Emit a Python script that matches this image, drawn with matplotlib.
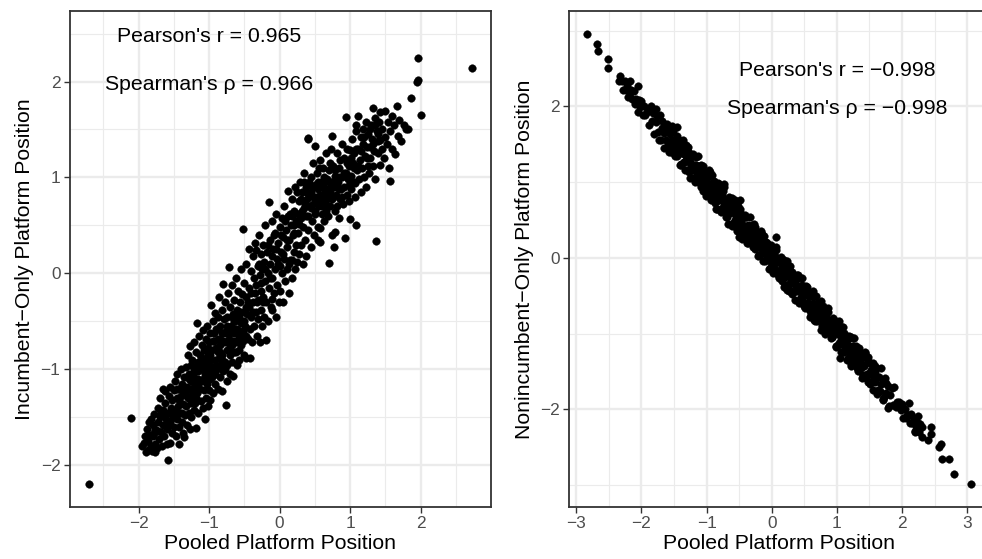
import numpy as np
import matplotlib
matplotlib.use("Agg")
import matplotlib.pyplot as plt

plt.rcParams['font.family'] = ['Liberation Sans', 'DejaVu Sans']

# left panel: pooled position vs incumbent-only position
incumbent_pts = [
    (-2.71, -2.20), (-2.11, -1.51),
    (-1.95, -1.80), (-1.93, -1.77), (-1.91, -1.70), (-1.90, -1.86), (-1.88, -1.62), (-1.87, -1.84),
    (-1.86, -1.75), (-1.85, -1.55), (-1.84, -1.68), (-1.83, -1.80), (-1.82, -1.52), (-1.81, -1.85),
    (-1.80, -1.58), (-1.80, -1.84), (-1.79, -1.70), (-1.78, -1.47), (-1.77, -1.63), (-1.76, -1.78),
    (-1.76, -1.86),
    (-1.75, -1.63), (-1.74, -1.82), (-1.73, -1.40), (-1.72, -1.55), (-1.71, -1.73), (-1.70, -1.30),
    (-1.69, -1.50), (-1.68, -1.65), (-1.67, -1.80), (-1.66, -1.20), (-1.66, -1.42), (-1.65, -1.58),
    (-1.64, -1.70), (-1.63, -1.23), (-1.62, -1.35), (-1.61, -1.52), (-1.60, -1.62), (-1.59, -1.78),
    (-1.58, -1.94), (-1.58, -1.45), (-1.57, -1.28), (-1.56, -1.18), (-1.56, -1.77), (-1.55, -1.55),
    (-1.54, -1.40), (-1.53, -1.66), (-1.52, -1.32), (-1.51, -1.50), (-1.50, -1.22), (-1.50, -1.60),
    (-1.49, -1.42), (-1.48, -1.12), (-1.47, -1.70), (-1.46, -1.30), (-1.45, -1.52), (-1.45, -1.05),
    (-1.44, -1.38), (-1.43, -1.78), (-1.43, -1.20), (-1.42, -1.60), (-1.41, -1.45), (-1.40, -1.00),
    (-1.40, -1.28), (-1.39, -1.55), (-1.38, -1.15), (-1.37, -1.36), (-1.37, -1.66), (-1.36, -1.08),
    (-1.35, -1.71), (-1.35, -1.25), (-1.34, -1.48), (-1.33, -0.98), (-1.33, -1.38), (-1.32, -1.18),
    (-1.31, -1.58), (-1.30, -0.85), (-1.30, -1.30), (-1.29, -1.05), (-1.29, -1.45), (-1.28, -1.20),
    (-1.27, -0.76), (-1.27, -1.62), (-1.26, -1.35), (-1.26, -0.95), (-1.25, -1.12), (-1.25, -1.50),
    (-1.24, -1.28), (-1.24, -0.90), (-1.23, -1.05), (-1.22, -1.42), (-1.22, -0.72), (-1.21, -1.18),
    (-1.20, -0.98), (-1.20, -1.35), (-1.19, -1.61), (-1.19, -0.82), (-1.18, -1.10), (-1.17, -0.52),
    (-1.17, -1.25), (-1.16, -0.92), (-1.15, -1.45), (-1.15, -1.02), (-1.14, -0.65), (-1.13, -1.20),
    (-1.13, -0.85), (-1.12, -1.33), (-1.11, -1.00), (-1.10, -0.75), (-1.10, -1.12), (-1.09, -0.59),
    (-1.09, -1.40), (-1.08, -0.92), (-1.07, -1.22), (-1.07, -0.80), (-1.06, -1.05), (-1.06, -1.52),
    (-1.05, -0.68), (-1.05, -1.30), (-1.04, -0.95), (-1.03, -1.15), (-1.03, -0.55), (-1.02, -0.85),
    (-1.02, -1.38), (-1.01, -1.05), (-1.00, -0.72), (-1.00, -1.22), (-0.99, -1.32), (-0.99, -0.90),
    (-0.98, -1.10), (-0.98, -0.62), (-0.97, -0.33), (-0.97, -0.98), (-0.96, -0.80), (-0.95, -1.25),
    (-0.95, -0.50), (-0.94, -1.02), (-0.93, -0.70), (-0.92, -0.41), (-0.92, -0.90), (-0.91, -1.15),
    (-0.90, -0.58), (-0.90, -0.78), (-0.89, -1.00), (-0.88, -0.45), (-0.88, -1.20), (-0.87, -0.68),
    (-0.86, -0.88), (-0.86, -0.25), (-0.85, -1.08), (-0.85, -0.55), (-0.84, -0.75), (-0.83, -0.95),
    (-0.82, -1.23), (-0.82, -0.38), (-0.81, -0.62), (-0.81, -0.85), (-0.80, -0.11), (-0.80, -1.02),
    (-0.79, -0.48), (-0.78, -0.72), (-0.78, -0.92), (-0.77, -0.30), (-0.76, -1.37), (-0.76, -0.60),
    (-0.75, -0.80), (-0.75, -1.12),
    (-0.74, -0.45), (-0.74, -0.95), (-0.73, -0.20), (-0.72, 0.07), (-0.72, -0.68), (-0.71, -0.85),
    (-0.70, -0.35), (-0.70, -1.05), (-0.69, -0.55), (-0.68, -0.75), (-0.68, -0.12), (-0.67, -0.92),
    (-0.66, -1.07), (-0.66, -0.42), (-0.65, -0.62), (-0.64, -0.28), (-0.64, -0.82), (-0.63, -0.50),
    (-0.62, -0.05), (-0.62, -0.70), (-0.61, -0.95), (-0.60, -0.38), (-0.60, -0.58), (-0.59, -0.18),
    (-0.58, -0.80), (-0.58, -0.45), (-0.57, -0.90), (-0.57, -0.65), (-0.56, -0.30), (-0.55, 0.05),
    (-0.55, -0.52), (-0.54, -0.75), (-0.53, -0.22), (-0.52, 0.46), (-0.52, -0.60), (-0.51, -0.40),
    (-0.50, -0.85), (-0.50, -0.10),
    (-0.49, -0.55), (-0.48, -0.25), (-0.47, -0.88), (-0.47, 0.10), (-0.46, -0.42), (-0.45, -0.68),
    (-0.44, -0.15), (-0.44, 0.25), (-0.43, -0.35), (-0.42, -0.88), (-0.42, -0.58), (-0.41, 0.02),
    (-0.40, -0.20), (-0.40, -0.45), (-0.39, -0.72), (-0.38, 0.18), (-0.37, -0.30), (-0.36, -0.05),
    (-0.36, -0.55), (-0.35, 0.32), (-0.34, 0.24), (-0.34, -0.40), (-0.33, -0.12), (-0.32, -0.65),
    (-0.31, 0.08), (-0.30, -0.28), (-0.30, -0.48), (-0.29, 0.40), (-0.28, -0.02), (-0.28, -0.72),
    (-0.27, -0.18), (-0.26, 0.20), (-0.26, -0.38), (-0.25, -0.55), (-0.25, 0.05),
    (-0.24, -0.25), (-0.23, 0.30), (-0.22, -0.45), (-0.22, 0.12), (-0.21, -0.08), (-0.20, 0.50),
    (-0.19, -0.69), (-0.19, -0.30), (-0.18, 0.22), (-0.17, 0.00), (-0.16, -0.50), (-0.15, 0.74),
    (-0.15, -0.15), (-0.14, 0.35), (-0.13, 0.10), (-0.12, -0.35), (-0.11, -0.27), (-0.11, 0.55),
    (-0.10, -0.38), (-0.10, -0.05), (-0.09, 0.25), (-0.08, -0.20), (-0.07, 0.42), (-0.06, 0.05),
    (-0.05, -0.45), (-0.05, 0.62), (-0.04, 0.15), (-0.03, -0.12), (-0.02, 0.32), (-0.01, -0.30),
    (0.00, 0.08), (0.00, 0.48),
    (0.01, -0.18), (0.02, 0.22), (0.03, 0.58), (0.04, 0.00), (0.05, 0.38), (0.05, -0.30),
    (0.06, 0.15), (0.07, 0.70), (0.08, -0.08), (0.09, 0.45), (0.10, 0.28), (0.11, 0.05),
    (0.12, 0.86), (0.12, 0.60), (0.13, -0.20), (0.14, 0.35), (0.15, 0.14), (0.16, 0.50),
    (0.17, 0.14), (0.17, 0.78), (0.18, -0.05), (0.19, 0.40), (0.20, 0.22), (0.21, 0.65),
    (0.22, 0.05), (0.22, 0.90), (0.23, 0.30), (0.24, 0.55), (0.25, 0.12),
    (0.26, 0.42), (0.27, 0.75), (0.28, 0.20), (0.29, 0.95), (0.30, 0.58), (0.31, 0.30),
    (0.32, 0.85), (0.33, 0.10), (0.33, 0.48), (0.34, 1.05), (0.35, 0.68), (0.36, 0.35),
    (0.37, 0.90), (0.38, 0.18), (0.38, 0.60), (0.39, 0.78), (0.40, 1.41), (0.40, 0.45),
    (0.41, 1.40), (0.42, 0.95), (0.43, 0.70), (0.44, 0.28), (0.45, 0.85), (0.46, 0.55),
    (0.47, 1.15), (0.48, 0.72), (0.49, 0.40), (0.50, 1.33), (0.50, 0.92),
    (0.51, 0.62), (0.52, 0.80), (0.53, 1.05), (0.54, 0.48), (0.55, 0.35), (0.55, 0.88),
    (0.56, 0.70), (0.57, 0.47), (0.57, 0.33), (0.58, 1.18), (0.59, 0.95), (0.60, 0.62),
    (0.61, 0.78), (0.62, 1.10), (0.63, 0.55), (0.64, 0.88), (0.65, 0.72), (0.66, 1.25),
    (0.67, 0.80), (0.68, 0.98), (0.69, 0.60), (0.70, 0.11), (0.70, 1.08), (0.71, 0.85),
    (0.72, 0.70), (0.73, 1.30), (0.74, 0.40), (0.74, 0.95), (0.75, 1.43), (0.75, 0.78),
    (0.76, 1.12), (0.77, 0.27), (0.77, 0.90), (0.78, 0.65), (0.79, 0.43), (0.79, 1.02),
    (0.80, 0.82), (0.81, 0.70), (0.82, 1.25), (0.83, 0.95), (0.84, 0.58), (0.85, 1.10),
    (0.86, 1.18), (0.86, 0.78), (0.87, 0.88), (0.88, 1.35), (0.89, 1.00), (0.90, 0.72),
    (0.91, 1.20), (0.92, 0.90), (0.93, 0.37), (0.94, 1.63), (0.94, 1.05), (0.95, 0.82),
    (0.96, 1.30), (0.97, 0.98), (0.98, 1.12), (0.99, 0.75), (1.00, 0.57), (1.00, 1.29),
    (1.01, 1.02), (1.02, 0.88), (1.03, 1.40), (1.04, 1.15), (1.05, 0.95), (1.06, 1.25),
    (1.07, 0.80), (1.07, 0.94), (1.08, 1.48), (1.09, 1.55), (1.09, 0.50), (1.10, 1.08),
    (1.11, 1.64), (1.12, 1.30), (1.13, 0.98), (1.14, 1.18), (1.15, 1.42), (1.16, 0.85),
    (1.17, 1.10), (1.18, 1.35), (1.19, 1.50), (1.20, 1.00), (1.21, 1.22), (1.22, 1.58),
    (1.23, 0.90), (1.24, 1.32), (1.25, 1.12),
    (1.26, 1.45), (1.27, 1.05), (1.28, 1.32), (1.29, 1.20), (1.30, 1.55), (1.31, 1.40),
    (1.32, 1.72), (1.33, 1.12), (1.34, 1.28), (1.35, 1.62), (1.36, 0.98), (1.37, 0.34),
    (1.38, 1.48), (1.39, 1.25), (1.40, 1.38), (1.41, 1.58), (1.42, 1.13), (1.42, 1.39),
    (1.43, 1.68), (1.45, 1.30), (1.46, 1.50), (1.48, 1.20), (1.50, 1.69), (1.50, 1.42),
    (1.52, 1.35), (1.54, 1.58), (1.55, 1.10), (1.56, 0.96), (1.57, 1.48), (1.59, 1.64),
    (1.60, 1.30), (1.62, 1.55), (1.64, 1.24), (1.66, 1.74), (1.68, 1.43), (1.70, 1.60),
    (1.73, 1.38), (1.76, 1.55), (1.80, 1.51), (1.82, 1.51), (1.86, 1.83), (1.95, 1.99),
    (1.96, 2.25), (1.97, 2.02), (2.00, 1.65), (2.73, 2.14),
    # denser core
    (0.42, 0.82), (0.45, 0.68), (0.48, 0.90), (0.52, 0.75), (0.55, 0.95), (0.58, 0.82),
    (0.60, 0.70), (0.62, 0.92), (0.65, 0.85), (0.68, 0.78), (0.70, 0.95), (0.72, 0.88),
    (0.76, 0.80), (0.80, 0.95), (0.84, 0.88), (0.36, 0.72), (0.30, 0.78), (0.26, 0.62),
    (0.20, 0.50), (0.15, 0.62),
    (-1.10, -0.95), (-1.05, -0.88), (-1.00, -0.95), (-0.95, -0.70), (-0.92, -1.05),
    (-0.88, -0.82), (-0.85, -0.68), (-0.82, -0.90), (-0.78, -0.62), (-0.75, -0.55),
    (-0.72, -0.80), (-0.70, -0.62), (-0.65, -0.50), (-0.62, -0.82), (-0.58, -0.60),
    (-0.55, -0.40), (-0.52, -0.70), (-0.48, -0.35), (-1.15, -1.10), (-1.20, -1.15),
    (-1.78, -1.66), (-1.72, -1.64), (-1.68, -1.45), (-1.62, -1.48), (-1.58, -1.58), (-1.52, -1.42),
    (-1.48, -1.50), (-1.46, -1.20), (-1.42, -1.32), (-1.38, -1.45), (-1.36, -1.22), (-1.32, -1.28),
    (-1.28, -1.10), (-1.25, -1.22), (-1.22, -1.00), (-1.18, -1.30), (-1.16, -1.15), (-1.12, -0.90),
    (-1.08, -1.10), (-1.05, -1.00), (-1.02, -0.78), (-0.98, -0.85), (-0.96, -1.08), (-0.93, -0.62),
    (-0.90, -0.95), (-0.87, -0.58), (-0.84, -0.82), (-0.80, -0.70), (-0.77, -1.00), (-0.74, -0.62),
    (-0.71, -0.75), (-0.68, -0.45), (-0.66, -0.70), (-0.63, -0.58), (-0.60, -0.72), (-0.57, -0.40),
    (-0.54, -0.62), (-0.51, -0.50), (-0.48, -0.65), (-0.45, -0.30),
    (-0.38, -0.40), (-0.35, -0.20), (-0.32, -0.30), (-0.29, 0.10), (-0.26, -0.10), (-0.23, -0.30),
    (-0.20, 0.05), (-0.17, 0.30), (-0.14, -0.05), (-0.11, 0.18), (-0.08, 0.40), (-0.05, 0.25),
    (-0.02, 0.10), (0.02, 0.40), (0.05, 0.20), (0.08, 0.55), (0.11, 0.35), (0.14, 0.10),
    (0.18, 0.60), (0.21, 0.42), (0.25, 0.85), (0.28, 0.52), (0.32, 0.65), (0.35, 0.95),
    (0.38, 0.85), (0.41, 0.60), (0.44, 1.00), (0.47, 0.80), (0.50, 0.65), (0.53, 0.92),
    (0.56, 1.10), (0.59, 0.75), (0.63, 1.00), (0.66, 0.65), (0.69, 0.88), (0.72, 1.15),
    (0.75, 0.95), (0.78, 1.08), (0.81, 0.90), (0.85, 1.00), (0.88, 0.80), (0.91, 1.05),
    (0.95, 1.15), (0.98, 0.92), (1.02, 1.20), (1.05, 1.10), (1.08, 1.30), (1.12, 1.12),
    (1.16, 1.28), (1.20, 1.42), (1.24, 1.20), (1.28, 1.50), (1.32, 1.35), (1.36, 1.55),
    (1.40, 1.45),
]

# right panel: pooled position vs nonincumbent-only position
nonincumbent_pts = [
    (-2.83, 2.96), (-2.69, 2.82), (-2.66, 2.73), (-2.51, 2.63), (-2.51, 2.51), (-2.33, 2.40),
    (-2.35, 2.33), (-2.18, 2.34), (-2.05, 2.27), (-1.45, 1.73), (-2.05, 1.92),
    (-0.50, 0.27), (-0.67, 0.45), (-0.84, 0.64), (-0.49, 0.76), (-0.74, 0.97), (0.07, 0.27),
    (0.23, -0.42), (1.04, -1.32), (1.22, -1.43), (1.40, -1.55),
    (1.71, -1.88), (2.10, -1.92), (2.25, -2.09), (2.30, -2.24), (2.20, -2.30), (2.45, -2.32),
    (2.40, -2.41), (2.44, -2.24), (2.60, -2.46), (2.57, -2.50), (2.62, -2.65), (2.72, -2.65),
    (2.80, -2.86), (3.06, -2.99),
    (-2.30, 2.33), (-2.28, 2.22), (-2.26, 2.34), (-2.24, 2.22), (-2.22, 2.27), (-2.20, 2.12),
    (-2.18, 2.18), (-2.16, 2.22), (-2.14, 2.10), (-2.12, 2.21), (-2.10, 2.03), (-2.08, 2.10),
    (-2.06, 2.05), (-2.04, 2.09), (-2.02, 1.99), (-2.00, 2.07), (-1.98, 1.89), (-1.96, 2.00),
    (-1.94, 1.89), (-1.92, 1.93),
    (-1.90, 1.95), (-1.88, 1.76), (-1.86, 2.01), (-1.84, 1.81), (-1.82, 1.91), (-1.80, 1.64),
    (-1.78, 1.79), (-1.76, 1.88), (-1.74, 1.66), (-1.72, 1.89), (-1.70, 1.56), (-1.68, 1.72),
    (-1.66, 1.65), (-1.64, 1.74), (-1.62, 1.56), (-1.60, 1.74), (-1.58, 1.40), (-1.56, 1.63),
    (-1.54, 1.44), (-1.52, 1.54), (-1.50, 1.55), (-1.48, 1.36), (-1.46, 1.61), (-1.44, 1.41),
    (-1.42, 1.51), (-1.40, 1.24), (-1.38, 1.39), (-1.36, 1.48), (-1.34, 1.26), (-1.32, 1.49),
    (-1.30, 1.16), (-1.28, 1.32), (-1.26, 1.25), (-1.24, 1.34), (-1.22, 1.16), (-1.20, 1.34),
    (-1.18, 1.00), (-1.16, 1.23), (-1.14, 1.04), (-1.12, 1.14), (-1.10, 1.15), (-1.08, 0.96),
    (-1.06, 1.21), (-1.04, 1.01), (-1.02, 1.11), (-1.00, 0.84), (-0.98, 0.99), (-0.96, 1.08),
    (-0.94, 0.86), (-0.92, 1.09), (-0.90, 0.76), (-0.88, 0.92), (-0.86, 0.85), (-0.84, 0.94),
    (-0.82, 0.76), (-0.80, 0.94), (-0.78, 0.60), (-0.76, 0.83), (-0.74, 0.64), (-0.72, 0.74),
    (-0.70, 0.75), (-0.68, 0.56), (-0.66, 0.81), (-0.64, 0.61), (-0.62, 0.71), (-0.60, 0.44),
    (-0.58, 0.59), (-0.56, 0.68), (-0.54, 0.46), (-0.52, 0.69), (-0.50, 0.36), (-0.48, 0.52),
    (-0.46, 0.45), (-0.44, 0.54), (-0.42, 0.36), (-0.40, 0.54), (-0.38, 0.20), (-0.36, 0.43),
    (-0.34, 0.24), (-0.32, 0.34), (-0.30, 0.35), (-0.28, 0.16), (-0.26, 0.41), (-0.24, 0.21),
    (-0.22, 0.31), (-0.20, 0.04), (-0.18, 0.19), (-0.16, 0.28), (-0.14, 0.06), (-0.12, 0.29),
    (-0.10, -0.04), (-0.08, 0.12), (-0.06, 0.05), (-0.04, 0.14), (-0.02, -0.04), (0.00, 0.14),
    (0.02, -0.20), (0.04, 0.03), (0.06, -0.16), (0.08, -0.06), (0.10, -0.05), (0.12, -0.24),
    (0.14, 0.01), (0.16, -0.19), (0.18, -0.09), (0.20, -0.36), (0.22, -0.21), (0.24, -0.12),
    (0.26, -0.34), (0.28, -0.11), (0.30, -0.44), (0.32, -0.28), (0.34, -0.35), (0.36, -0.26),
    (0.38, -0.44), (0.40, -0.26), (0.42, -0.60), (0.44, -0.37), (0.46, -0.56), (0.48, -0.46),
    (0.50, -0.45), (0.52, -0.64), (0.54, -0.39), (0.56, -0.59), (0.58, -0.49), (0.60, -0.76),
    (0.62, -0.61), (0.64, -0.52), (0.66, -0.74), (0.68, -0.51), (0.70, -0.84), (0.72, -0.68),
    (0.74, -0.75), (0.76, -0.66), (0.78, -0.84), (0.80, -0.66), (0.82, -1.00), (0.84, -0.77),
    (0.86, -0.96), (0.88, -0.86), (0.90, -0.85), (0.92, -1.04), (0.94, -0.79), (0.96, -0.99),
    (0.98, -0.89), (1.00, -1.16), (1.02, -1.01), (1.04, -0.92), (1.06, -1.14), (1.08, -0.91),
    (1.10, -1.24), (1.12, -1.08), (1.14, -1.15), (1.16, -1.06), (1.18, -1.24), (1.20, -1.06),
    (1.22, -1.40), (1.24, -1.17), (1.26, -1.36), (1.28, -1.26), (1.30, -1.25), (1.32, -1.44),
    (1.34, -1.19), (1.36, -1.39), (1.38, -1.29), (1.40, -1.56), (1.42, -1.41), (1.44, -1.32),
    (1.46, -1.54), (1.48, -1.31), (1.50, -1.64), (1.52, -1.48), (1.54, -1.55), (1.56, -1.46),
    (1.58, -1.64), (1.60, -1.46), (1.62, -1.80), (1.64, -1.57), (1.66, -1.76), (1.68, -1.66),
    (1.70, -1.65), (1.72, -1.84), (1.74, -1.59), (1.76, -1.79), (1.78, -1.69), (1.80, -1.96),
    (1.82, -1.81), (1.84, -1.72), (1.86, -1.94), (1.88, -1.71),
    (1.90, -1.97), (1.92, -1.90), (1.94, -1.95), (1.96, -1.91), (1.98, -2.01), (2.00, -1.93),
    (2.02, -2.11), (2.04, -2.00), (2.06, -2.11), (2.08, -2.07), (2.10, -2.07), (2.12, -2.18),
    (2.14, -2.06), (2.16, -2.18), (2.18, -2.13), (2.20, -2.28), (2.22, -2.22), (2.24, -2.18),
    (2.26, -2.30), (2.28, -2.19), (2.30, -2.37),
    (-1.59, 1.52), (-1.57, 1.68), (-1.55, 1.40), (-1.53, 1.56), (-1.51, 1.67), (-1.49, 1.45),
    (-1.47, 1.55), (-1.45, 1.34), (-1.43, 1.56), (-1.41, 1.41), (-1.39, 1.22), (-1.37, 1.43),
    (-1.35, 1.26), (-1.33, 1.45), (-1.31, 1.29), (-1.29, 1.47), (-1.27, 1.14), (-1.25, 1.18),
    (-1.23, 1.34), (-1.21, 1.06), (-1.19, 1.22), (-1.17, 1.33), (-1.15, 1.11), (-1.13, 1.21),
    (-1.11, 1.00), (-1.09, 1.22), (-1.07, 1.07), (-1.05, 0.88), (-1.03, 1.09), (-1.01, 0.92),
    (-0.99, 1.11), (-0.97, 0.95), (-0.95, 1.13), (-0.93, 0.80), (-0.91, 0.84), (-0.89, 1.00),
    (-0.87, 0.72), (-0.85, 0.88), (-0.83, 0.99), (-0.81, 0.77), (-0.79, 0.87), (-0.77, 0.66),
    (-0.75, 0.88), (-0.73, 0.73), (-0.71, 0.54), (-0.69, 0.75), (-0.67, 0.58), (-0.65, 0.77),
    (-0.63, 0.61), (-0.61, 0.79), (-0.59, 0.46), (-0.57, 0.50), (-0.55, 0.66), (-0.53, 0.38),
    (-0.51, 0.54), (-0.49, 0.65), (-0.47, 0.43), (-0.45, 0.53), (-0.43, 0.32), (-0.41, 0.54),
    (-0.39, 0.39), (-0.37, 0.20), (-0.35, 0.41), (-0.33, 0.24), (-0.31, 0.43), (-0.29, 0.27),
    (-0.27, 0.45), (-0.25, 0.12), (-0.23, 0.16), (-0.21, 0.32), (-0.19, 0.04), (-0.17, 0.20),
    (-0.15, 0.31), (-0.13, 0.09), (-0.11, 0.19), (-0.09, -0.02), (-0.07, 0.20), (-0.05, 0.05),
    (-0.03, -0.14), (-0.01, 0.07), (0.01, -0.10), (0.03, 0.09), (0.05, -0.07), (0.07, 0.11),
    (0.09, -0.22), (0.11, -0.18), (0.13, -0.02), (0.15, -0.30), (0.17, -0.14), (0.19, -0.03),
    (0.21, -0.25), (0.23, -0.15), (0.25, -0.36), (0.27, -0.14), (0.29, -0.29), (0.31, -0.48),
    (0.33, -0.27), (0.35, -0.44), (0.37, -0.25), (0.39, -0.41), (0.41, -0.23), (0.43, -0.56),
    (0.45, -0.52), (0.47, -0.36), (0.49, -0.64), (0.51, -0.48), (0.53, -0.37), (0.55, -0.59),
    (0.57, -0.49), (0.59, -0.70), (0.61, -0.48), (0.63, -0.63), (0.65, -0.82), (0.67, -0.61),
    (0.69, -0.78), (0.71, -0.59), (0.73, -0.75), (0.75, -0.57), (0.77, -0.90), (0.79, -0.86),
    (0.81, -0.70), (0.83, -0.98), (0.85, -0.82), (0.87, -0.71), (0.89, -0.93), (0.91, -0.83),
    (0.93, -1.04), (0.95, -0.82), (0.97, -0.97), (0.99, -1.16), (1.01, -0.95), (1.03, -1.12),
    (1.05, -0.93), (1.07, -1.09), (1.09, -0.91), (1.11, -1.24), (1.13, -1.20), (1.15, -1.04),
    (1.17, -1.32), (1.19, -1.16), (1.21, -1.05), (1.23, -1.27), (1.25, -1.17), (1.27, -1.38),
    (1.29, -1.16), (1.31, -1.31), (1.33, -1.50), (1.35, -1.29), (1.37, -1.46), (1.39, -1.27),
    (1.41, -1.43), (1.43, -1.25), (1.45, -1.58), (1.47, -1.54), (1.49, -1.38), (1.51, -1.66),
    (1.53, -1.50), (1.55, -1.39), (1.57, -1.61), (1.59, -1.51),
    # extra fill along the densest stretch
    (-0.95, 0.98), (-0.85, 0.82), (-0.75, 0.78), (-0.65, 0.68), (-0.55, 0.55), (-0.45, 0.40),
    (-0.35, 0.33), (-0.25, 0.28), (-0.15, 0.12), (-0.05, -0.01), (0.05, 0.02), (0.15, -0.12),
    (0.25, -0.22), (0.35, -0.33), (0.45, -0.42), (0.55, -0.50), (0.65, -0.66), (0.75, -0.72),
    (0.85, -0.90), (0.95, -0.92), (1.05, -1.02), (1.15, -1.14), (1.25, -1.27), (1.35, -1.36),
    (-1.05, 1.03), (-1.15, 1.18), (-1.25, 1.27), (-1.35, 1.37), (-1.45, 1.45), (-1.55, 1.52),
    # band edges
    (-1.77, 1.96), (-1.73, 1.56), (-1.69, 1.81), (-1.65, 1.45), (-1.61, 1.77), (-1.57, 1.45),
    (-1.53, 1.74), (-1.49, 1.34), (-1.45, 1.55), (-1.41, 1.22), (-1.37, 1.56), (-1.33, 1.16),
    (-1.29, 1.41), (-1.25, 1.05), (-1.21, 1.37), (-1.17, 1.05), (-1.13, 1.34), (-1.09, 0.94),
    (-1.05, 1.15), (-1.01, 0.82), (-0.97, 1.16), (-0.93, 0.76), (-0.89, 1.01), (-0.85, 0.65),
    (-0.81, 0.97), (-0.77, 0.65), (-0.73, 0.94), (-0.69, 0.54), (-0.65, 0.75), (-0.61, 0.42),
    (-0.57, 0.76), (-0.53, 0.36), (-0.49, 0.61), (-0.45, 0.25), (-0.41, 0.57), (-0.37, 0.25),
    (-0.33, 0.54), (-0.29, 0.14), (-0.25, 0.35), (-0.21, 0.02), (-0.17, 0.36), (-0.13, -0.04),
    (-0.09, 0.21), (-0.05, -0.15), (-0.01, 0.17), (0.03, -0.15), (0.07, 0.14), (0.11, -0.26),
    (0.15, -0.05), (0.19, -0.38), (0.23, -0.04), (0.27, -0.44), (0.31, -0.19), (0.35, -0.55),
    (0.39, -0.23), (0.43, -0.55), (0.47, -0.26), (0.51, -0.66), (0.55, -0.45), (0.59, -0.78),
    (0.63, -0.44), (0.67, -0.84), (0.71, -0.59), (0.75, -0.95), (0.79, -0.63), (0.83, -0.95),
    (0.87, -0.66), (0.91, -1.06), (0.95, -0.85), (0.99, -1.18), (1.03, -0.84), (1.07, -1.24),
    (1.11, -0.99), (1.15, -1.35), (1.19, -1.03), (1.23, -1.35), (1.27, -1.06), (1.31, -1.46),
    (1.35, -1.25), (1.39, -1.58), (1.43, -1.24), (1.47, -1.64), (1.51, -1.39), (1.55, -1.75),
    (1.59, -1.43), (1.63, -1.75), (1.67, -1.46), (1.71, -1.86), (1.75, -1.65), (1.79, -1.98),
]

left_text = ["Pearson's r = 0.965", "Spearman's \u03c1 = 0.966"]
right_text = ["Pearson's r = \u22120.998", "Spearman's \u03c1 = \u22120.998"]
left_text_xy = [(-1.0, 2.5), (-1.0, 2.0)]
right_text_xy = [(1.0, 2.5), (1.0, 2.0)]

W, H = 982, 559
fig = plt.figure(figsize=(W / 100, H / 100), dpi=100)

ax1 = fig.add_axes([69.5 / W, 52 / H, (491 - 69.5) / W, 496 / H])
ax2 = fig.add_axes([568.5 / W, 52 / H, (990 - 568.5) / W, 496 / H])


def style(ax):
    ax.set_axisbelow(True)
    ax.grid(True, which='major', color='#EBEBEB', linewidth=1.7)
    ax.grid(True, which='minor', color='#EBEBEB', linewidth=0.85)
    for s in ax.spines.values():
        s.set_color('#333333')
        s.set_linewidth(1.3)
    ax.tick_params(which='major', direction='out', length=4, width=1.0, color='#333333',
                   labelsize=12.4, labelcolor='#4D4D4D', pad=2.5)
    ax.tick_params(which='minor', length=0)


a = np.array(incumbent_pts)
ax1.scatter(a[:, 0], a[:, 1], s=30, c='black', edgecolors='black', linewidths=0.3, zorder=3)
ax1.set_xlim(-2.98, 3.0)
ax1.set_ylim(-2.435, 2.735)
ax1.set_xticks([-2, -1, 0, 1, 2])
ax1.set_xticks([-2.5, -1.5, -0.5, 0.5, 1.5, 2.5], minor=True)
ax1.set_yticks([-2, -1, 0, 1, 2])
ax1.set_yticks([-1.5, -0.5, 0.5, 1.5, 2.5], minor=True)
ax1.set_xticklabels(['\u22122', '\u22121', '0', '1', '2'])
ax1.set_yticklabels(['\u22122', '\u22121', '0', '1', '2'])
style(ax1)
ax1.set_xlabel('Pooled Platform Position', fontsize=15.3, labelpad=2)
ax1.set_ylabel('Incumbent\u2212Only Platform Position', fontsize=15.3, labelpad=5)
for t, (tx, ty) in zip(left_text, left_text_xy):
    ax1.text(tx, ty - 0.03, t, ha='center', va='center', fontsize=15.3, color='black')

b = np.array(nonincumbent_pts)
ax2.scatter(b[:, 0], b[:, 1], s=30, c='black', edgecolors='black', linewidths=0.3, zorder=3)
ax2.set_xlim(-3.12, 3.35)
ax2.set_ylim(-3.29, 3.26)
ax2.set_xticks([-3, -2, -1, 0, 1, 2, 3])
ax2.set_xticks([-2.5, -1.5, -0.5, 0.5, 1.5, 2.5], minor=True)
ax2.set_yticks([-2, 0, 2])
ax2.set_yticks([-3, -1, 1, 3], minor=True)
ax2.set_xticklabels(['\u22123', '\u22122', '\u22121', '0', '1', '2', '3'])
ax2.set_yticklabels(['\u22122', '0', '2'])
style(ax2)
ax2.set_xlabel('Pooled Platform Position', fontsize=15.3, labelpad=2)
ax2.set_ylabel('Nonincumbent\u2212Only Platform Position', fontsize=15.3, labelpad=4)
for t, (tx, ty) in zip(right_text, right_text_xy):
    ax2.text(tx, ty - 0.03, t, ha='center', va='center', fontsize=15.3, color='black')

fig.savefig('out.png', dpi=100, facecolor='white')
